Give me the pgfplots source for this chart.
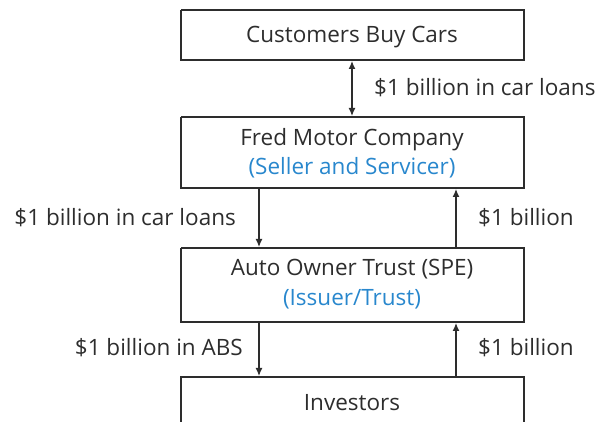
\documentclass[border=0pt]{standalone}
\usepackage{fontspec}
\setmainfont{Open Sans}
\usepackage{pgfplots}
\pgfplotsset{compat=1.18}
\usetikzlibrary{arrows.meta}
\definecolor{ink}{RGB}{45,45,45}
\definecolor{role}{RGB}{40,135,205}
\tikzset{
  lbl/.style={font=\fontsize{22.5}{27}\selectfont, text=ink, inner sep=0pt},
  edge/.style={ink, line width=1.3pt, mark=none},
  tip/.style={edge, -{Latex[length=8pt,width=7pt]}},
}

\begin{document}
\begin{tikzpicture}
\begin{axis}[
  scale only axis, width=598pt, height=422pt,
  xmin=0, xmax=598, ymin=0, ymax=422, y dir=reverse,
  hide axis, clip=false,
]
% boxes (pixel coordinates, y downwards)
\addplot[edge] coordinates {(181,10) (524,10) (524,60) (181,60) (181,10)};
\addplot[edge] coordinates {(181,117) (524,117) (524,188) (181,188) (181,117)};
\addplot[edge] coordinates {(181,248) (524,248) (524,322) (181,322) (181,248)};
\addplot[edge] coordinates {(181,422) (181,377) (524,377) (524,422)};
% arrows
\addplot[edge, {Latex[length=8pt,width=7pt]}-{Latex[length=8pt,width=7pt]}] coordinates {(352,61) (352,116)};
\addplot[tip] coordinates {(259,188) (259,247)};
\addplot[tip] coordinates {(456,248) (456,189)};
\addplot[tip] coordinates {(259,322) (259,376)};
\addplot[tip] coordinates {(456,377) (456,323)};
% box text
\node[lbl, anchor=base] at (axis cs:352,43) {Customers Buy Cars};
\node[lbl, anchor=base] at (axis cs:352,146) {Fred Motor Company};
\node[lbl, anchor=base, text=role] at (axis cs:352,175) {(Seller and Servicer)};
\node[lbl, anchor=base] at (axis cs:352,276) {Auto Owner Trust (SPE)};
\node[lbl, anchor=base, text=role] at (axis cs:352,306) {(Issuer/Trust)};
\node[lbl, anchor=base] at (axis cs:352,411) {Investors};
% flow labels
\node[lbl, anchor=base west] at (axis cs:374,96) {\$1 billion in car loans};
\node[lbl, anchor=base east] at (axis cs:236,226) {\$1 billion in car loans};
\node[lbl, anchor=base west] at (axis cs:478,226) {\$1 billion};
\node[lbl, anchor=base east] at (axis cs:243,356) {\$1 billion in ABS};
\node[lbl, anchor=base west] at (axis cs:478,356) {\$1 billion};
\end{axis}
\pgfresetboundingbox
\useasboundingbox (current axis.south west) rectangle (current axis.north east);
\end{tikzpicture}
\end{document}
